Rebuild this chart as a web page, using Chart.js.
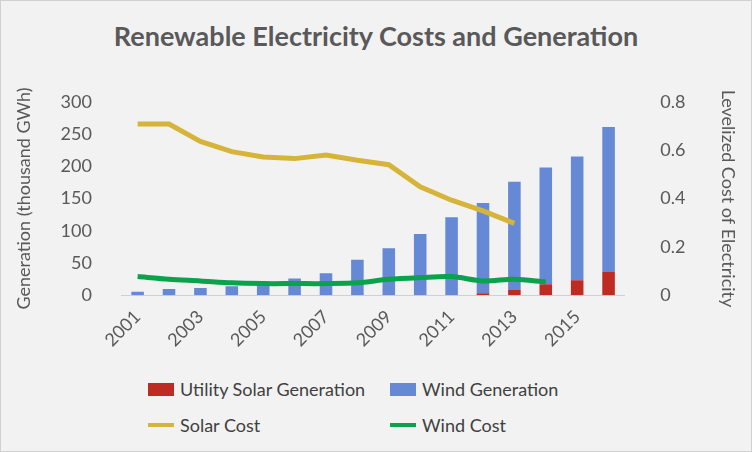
<!DOCTYPE html>
<html><head><meta charset="utf-8">
<script src="https://cdn.jsdelivr.net/npm/chart.js@4/dist/chart.umd.min.js"></script>
<style>
html,body{margin:0;padding:0;background:#fff;}
#wrap{position:relative;width:750px;height:450px;background:#f2f2f2;border:1px solid #d0d0d0;font-family:Lato,sans-serif;}
#title{position:absolute;top:18px;left:0;width:100%;text-align:center;font-size:27px;font-weight:bold;color:#595959;}
#cv{position:absolute;left:0;top:62px;}
.lg{position:absolute;font-size:18px;color:#404040;display:flex;align-items:center;}
.sw{display:inline-block;margin-right:6px;}
</style></head><body>
<div id="wrap">
<div id="title">Renewable Electricity Costs and Generation</div>
<canvas id="cv" width="750" height="291"></canvas>
<div class="lg" style="left:147px;top:377px"><span class="sw" style="width:26px;height:13px;background:#be2b23"></span>Utility Solar Generation</div>
<div class="lg" style="left:389px;top:377px"><span class="sw" style="width:26px;height:13px;background:#6589d4"></span>Wind Generation</div>
<div class="lg" style="left:147px;top:413px"><span class="sw" style="width:26px;height:4px;background:#d6b43a"></span>Solar Cost</div>
<div class="lg" style="left:389px;top:413px"><span class="sw" style="width:26px;height:4px;background:#0aa24a"></span>Wind Cost</div>
</div>
<script>
const years=['2001','2002','2003','2004','2005','2006','2007','2008','2009','2010','2011','2012','2013','2014','2015','2016'];
const solarGen=[0,0,0,0,0,0,0,0,0,0,0,3,8,17,23,36];
const windGen=[5.5,9.6,11,14,17,26,34,55,73,95,121,140,168,181,192,225];
const solarCost=[0.708,0.708,0.636,0.594,0.572,0.565,0.58,0.558,0.54,0.448,0.393,0.349,0.297,null,null,null];
const windCost=[0.077,0.066,0.059,0.051,0.048,0.048,0.048,0.051,0.066,0.073,0.077,0.059,0.066,0.055,null,null];
const f={family:'Lato',size:18};
new Chart(document.getElementById('cv'),{
 data:{labels:years,datasets:[
  {type:'line',label:'Solar Cost',data:solarCost,yAxisID:'y2',borderColor:'#d6b43a',borderWidth:5,pointRadius:0,tension:0,order:0},
  {type:'line',label:'Wind Cost',data:windCost,yAxisID:'y2',borderColor:'#0aa24a',borderWidth:5,pointRadius:0,tension:0.3,order:0},
  {type:'bar',label:'Utility Solar Generation',data:solarGen,backgroundColor:'#be2b23',stack:'g',yAxisID:'y',categoryPercentage:0.8,barPercentage:0.5,order:1},
  {type:'bar',label:'Wind Generation',data:windGen,backgroundColor:'#6589d4',stack:'g',yAxisID:'y',categoryPercentage:0.8,barPercentage:0.5,order:1}
 ]},
 options:{responsive:false,animation:false,
  layout:{padding:{left:8,right:8,top:12}},
  plugins:{legend:{display:false},tooltip:{enabled:false}},
  scales:{
   x:{stacked:true,grid:{display:false},border:{color:'#d0d0d0'},ticks:{font:f,color:'#595959',maxRotation:45,minRotation:45}},
   y:{stacked:true,min:0,max:300,ticks:{stepSize:50,font:f,color:'#595959',padding:22},grid:{display:false},border:{display:false},
      title:{display:true,text:'Generation (thousand GWh)',font:f,color:'#595959'}},
   y2:{position:'right',min:0,max:0.8,ticks:{stepSize:0.1,font:f,color:'#595959',padding:28,callback:v=>v===0?'0':+v.toFixed(1)},grid:{display:false},border:{display:false},
      title:{display:true,text:'Levelized Cost of Electricity',font:f,color:'#595959'}}
  }}
});
</script></body></html>
